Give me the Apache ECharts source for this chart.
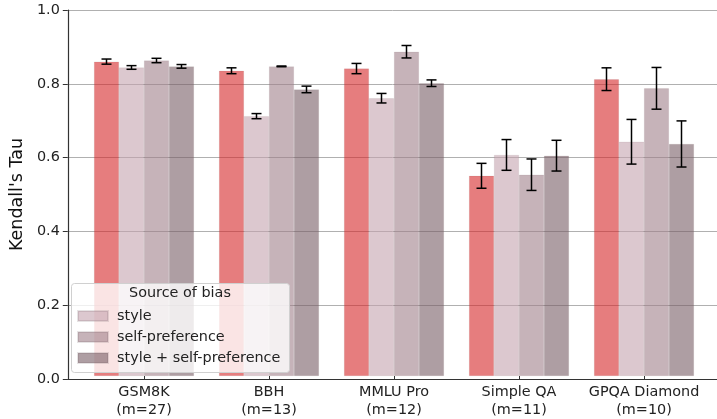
<!DOCTYPE html>
<html lang="en">
<head>
<meta charset="UTF-8">
<script src="https://cdn.jsdelivr.net/npm/echarts@6/dist/echarts.min.js"></script>
<style>
  html, body { margin: 0; padding: 0; background: #fff; }
  #chart { width: 717px; height: 419px; }
</style>
</head>
<body>
<div id="chart"></div>
<script>
// benchmarks on the x axis
var categories = ['GSM8K\n(m=27)', 'BBH\n(m=13)', 'MMLU Pro\n(m=12)', 'Simple QA\n(m=11)', 'GPQA Diamond\n(m=10)'];
var seriesNames = ['baseline', 'style', 'self-preference', 'style + self-preference'];

// mean Kendall's tau per benchmark
var baseline = [0.859, 0.834, 0.840, 0.547, 0.811];
var style = [0.843, 0.710, 0.759, 0.604, 0.640];
var selfPref = [0.862, 0.846, 0.886, 0.550, 0.786];
var styleSelf = [0.846, 0.783, 0.800, 0.602, 0.634];

// error bar half-widths
var baselineErr = [0.007, 0.008, 0.014, 0.034, 0.031];
var styleErr = [0.005, 0.007, 0.013, 0.042, 0.061];
var selfPrefErr = [0.006, 0.001, 0.017, 0.043, 0.057];
var styleSelfErr = [0.005, 0.009, 0.009, 0.042, 0.063];

var colors = ['rgba(214,39,40,0.6)', 'rgba(197,163,175,0.6)', 'rgba(160,128,138,0.6)', 'rgba(120,93,102,0.6)'];
var values = [baseline, style, selfPref, styleSelf];
var errs = [baselineErr, styleErr, selfPrefErr, styleSelfErr];

var barW = 25;
var font = 'DejaVu Sans';
var fs = 14.4;

var myChart = echarts.init(document.getElementById('chart'));

var series = [];
values.forEach(function (vals, s) {
    series.push({
        name: seriesNames[s],
        type: 'bar',
        xAxisIndex: 1,
        yAxisIndex: 1,
        barWidth: barW,
        barGap: '0%',
        itemStyle: { color: colors[s], borderColor: 'rgba(90,70,75,0.15)', borderWidth: 0.6 },
        data: vals
    });
});
// error bars drawn on top
values.forEach(function (vals, s) {
    var data = vals.map(function (v, i) { return [i, v, errs[s][i]]; });
    series.push({
        type: 'custom',
        xAxisIndex: 1,
        yAxisIndex: 1,
        z: 5,
        silent: true,
        data: data,
        renderItem: function (params, api) {
            var i = api.value(0), v = api.value(1), e = api.value(2);
            var off = (s - 1.5) * barW;
            var top = api.coord([i, v + e]);
            var bot = api.coord([i, v - e]);
            var x = top[0] + off;
            var cap = 5;
            var st = { stroke: '#000', lineWidth: 1.5 };
            return {
                type: 'group',
                children: [
                    { type: 'line', shape: { x1: x, y1: top[1], x2: x, y2: bot[1] }, style: st },
                    { type: 'line', shape: { x1: x - cap, y1: top[1], x2: x + cap, y2: top[1] }, style: st },
                    { type: 'line', shape: { x1: x - cap, y1: bot[1], x2: x + cap, y2: bot[1] }, style: st }
                ]
            };
        }
    });
});

var option = {
    animation: false,
    textStyle: { fontFamily: font },
    grid: [
        { left: 64, right: 0, top: 10, bottom: 40 },
        { left: 81.5, right: 10.5, top: 10, bottom: 40 }
    ],
    xAxis: [
        {
            type: 'value', gridIndex: 0, min: 0, max: 1,
            axisLine: { show: true, lineStyle: { color: '#333', width: 1.2 } },
            axisTick: { show: false }, axisLabel: { show: false }, splitLine: { show: false }
        },
        {
            type: 'category', gridIndex: 1, data: categories,
            axisLine: { show: false },
            axisTick: { show: true, alignWithLabel: true, length: 4, lineStyle: { color: '#333' } },
            axisLabel: { interval: 0, color: '#222', fontSize: fs, lineHeight: 18, margin: 7, fontFamily: font }
        }
    ],
    yAxis: [
        {
            type: 'value', gridIndex: 0, min: 0, max: 1, interval: 0.2,
            name: "Kendall's Tau", nameLocation: 'middle', nameGap: 36,
            nameTextStyle: { fontSize: 17.5, color: '#111', fontFamily: font },
            axisLine: { show: true, lineStyle: { color: '#333', width: 1.2 } },
            axisTick: { show: true, length: 5, lineStyle: { color: '#333' } },
            axisLabel: { color: '#222', fontSize: fs, margin: 8, fontFamily: font,
                formatter: function (v) { return v.toFixed(1); } },
            splitLine: { show: true, lineStyle: { color: '#b0b0b0', width: 1 } }
        },
        { type: 'value', gridIndex: 1, min: 0, max: 1, show: false }
    ],
    graphic: [
        {
            type: 'rect', left: 71, top: 283, z: 10,
            shape: { width: 218, height: 89, r: 3 },
            style: { fill: 'rgba(255,255,255,0.8)', stroke: '#d0d0d0', lineWidth: 1 }
        },
        {
            type: 'text', left: 129, top: 286, z: 11,
            style: { text: 'Source of bias', fontSize: fs, fill: '#222', fontFamily: font }
        }
    ],
    legend: {
        data: ['style', 'self-preference', 'style + self-preference'],
        orient: 'vertical',
        left: 72, top: 304, z: 12,
        itemWidth: 30, itemHeight: 10, itemGap: 7,
        icon: 'rect',
        textStyle: { fontSize: fs, color: '#222', fontFamily: font, padding: [0, 0, 0, 4] }
    },
    series: series
};
myChart.setOption(option);
</script>
</body>
</html>
